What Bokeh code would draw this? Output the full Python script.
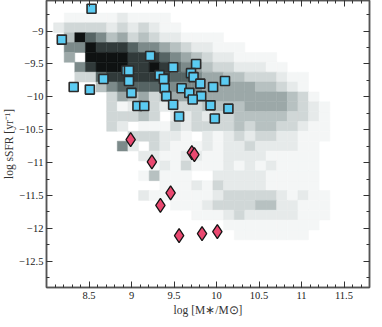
import numpy as np
from bokeh.plotting import figure
from bokeh.models import Range1d, FixedTicker, LinearAxis, CustomJSTickFormatter, ColumnDataSource
from bokeh.embed import file_html
from bokeh.resources import INLINE

# ---- 2D histogram of the galaxy population (grey map), levels 0-9
hist_x_start = 8.083
hist_x_step = 0.125
hist_y_top = -8.725
hist_y_step = 0.15

hist_rows = [
    [0,1,1,1,1,1,2,1,1,1,1,0,0,0,0,0,0,0,0,0,0,0,0,0,0,0],
    [2,3,3,3,3,2,3,2,3,2,1,1,0,0,0,0,0,0,0,0,0,0,0,0,0,0],
    [0,4,9,7,6,4,5,3,4,3,2,2,1,1,1,1,0,0,0,0,0,0,0,0,0,0],
    [0,6,6,9,8,8,8,7,6,6,5,4,3,2,2,1,1,1,0,0,0,0,0,0,0,0],
    [0,5,0,9,9,9,9,8,8,8,7,6,5,4,3,2,2,1,1,1,1,0,0,0,0,0],
    [0,0,6,8,9,9,9,8,8,9,8,7,6,5,4,3,3,2,2,2,1,1,0,0,0,0],
    [0,0,3,3,7,8,8,8,8,8,8,7,7,6,5,5,4,4,3,3,3,2,1,1,0,0],
    [0,0,0,0,4,6,7,7,7,7,7,6,6,6,5,5,5,5,5,4,4,3,2,1,0,0],
    [0,0,0,0,0,3,5,4,5,3,4,5,5,5,5,5,5,5,5,5,5,5,4,3,1,0],
    [0,0,0,0,0,3,1,2,3,3,2,3,3,3,4,4,4,4,5,5,5,5,4,3,2,1],
    [0,0,0,0,0,3,3,3,4,3,0,2,2,3,2,3,3,4,4,4,4,4,3,3,2,1],
    [0,0,0,0,0,3,2,0,1,1,1,3,2,3,3,3,3,4,3,4,4,3,3,2,1,1],
    [0,0,0,0,0,0,0,3,3,3,2,2,1,0,2,1,2,3,2,3,3,2,2,1,1,1],
    [0,0,0,0,0,0,6,2,0,3,2,1,1,1,2,1,2,2,3,2,2,2,2,1,1,0],
    [0,0,0,0,0,0,0,0,2,2,1,1,2,2,1,1,2,2,2,2,1,1,1,1,1,0],
    [0,0,0,0,0,0,0,0,0,1,2,1,3,1,1,1,2,1,2,1,2,1,1,1,1,0],
    [0,0,0,0,0,0,0,0,1,4,1,1,1,0,0,2,2,2,2,2,1,1,1,1,1,0],
    [0,0,0,0,0,0,0,0,0,0,1,1,1,2,1,3,2,2,2,2,1,1,1,1,1,0],
    [0,0,0,0,0,0,0,0,2,1,1,1,1,1,1,2,3,3,3,3,3,2,1,2,1,1],
    [0,0,0,0,0,0,0,0,0,0,0,1,1,1,2,3,3,3,3,4,4,2,2,1,1,1],
    [0,0,0,0,0,0,0,0,0,0,0,0,0,1,1,1,2,3,2,2,2,2,2,1,1,1],
    [0,0,0,0,0,0,0,0,0,0,0,0,0,0,0,0,1,1,1,1,1,1,1,1,1,0],
    [0,0,0,0,0,0,0,0,0,0,0,0,0,0,0,0,0,1,1,1,1,1,1,1,0,0],
]

# ---- blue squares
sq_logm = [8.53, 8.18, 9.22, 8.94, 8.97, 8.97, 9.00, 9.33, 9.38, 9.49, 9.76, 9.70,
           9.73, 10.10, 9.39, 9.59, 9.81, 9.96, 9.68, 9.41, 9.82, 9.72, 9.07, 9.15,
           9.49, 9.93, 10.14, 9.56, 9.98, 8.32, 8.51, 8.67]
sq_ssfr = [-8.66, -9.13, -9.38, -9.60, -9.60, -9.76, -9.94, -9.67, -9.73, -9.55, -9.50, -9.64,
           -9.70, -9.76, -9.87, -9.87, -9.80, -9.85, -9.94, -9.99, -9.99, -10.04, -10.14, -10.14,
           -10.12, -10.13, -10.18, -10.30, -10.33, -9.85, -9.89, -9.73]

# ---- red diamonds
dia_logm = [8.99, 9.24, 9.71, 9.74, 9.46, 9.34, 9.56, 9.83, 10.01]
dia_ssfr = [-10.65, -10.99, -10.85, -10.88, -11.46, -11.65, -12.11, -12.08, -12.05]

# ---- ticks
x_major_ticks = [8.5, 9.0, 9.5, 10.0, 10.5, 11.0, 11.5]
x_minor_ticks = [round(8.1 + 0.1 * i, 2) for i in range(37)]
y_major_ticks = [-12.5, -12.0, -11.5, -11.0, -10.5, -10.0, -9.5, -9.0]
y_minor_ticks = [-12.75, -12.25, -11.75, -11.25, -10.75, -10.25, -9.75, -9.25, -8.75]

level_dark = [0.0, 0.035, 0.085, 0.16, 0.25, 0.35, 0.47, 0.62, 0.78, 0.93]


def shade(lvl):
    d = level_dark[lvl]
    base = 255.0 * (1.0 - d)
    t = 18.0 * np.sin(np.pi * d)
    r = int(np.clip(base - 0.6 * t, 0, 255))
    g = int(np.clip(base + 0.2 * t, 0, 255))
    b = int(np.clip(base + 0.2 * t, 0, 255))
    return "#%02x%02x%02x" % (r, g, b)


left, right, top, bottom, color = [], [], [], [], []
for i, row in enumerate(hist_rows):
    for j, lvl in enumerate(row):
        if lvl <= 0:
            continue
        l = hist_x_start + j * hist_x_step
        t_ = hist_y_top - i * hist_y_step
        left.append(l)
        right.append(l + hist_x_step)
        top.append(t_)
        bottom.append(t_ - hist_y_step)
        color.append(shade(lvl))

src = ColumnDataSource(dict(left=left, right=right, top=top, bottom=bottom, color=color))

p = figure(width=372, height=318, x_range=Range1d(8.0, 11.8), y_range=Range1d(-12.9, -8.535),
           output_backend="svg", toolbar_location=None,
           min_border_left=0, min_border_right=3, min_border_top=0, min_border_bottom=0)
p.xgrid.visible = False
p.ygrid.visible = False
p.background_fill_color = "white"
p.outline_line_color = "#555555"
p.outline_line_width = 1.5

p.quad(left="left", right="right", top="top", bottom="bottom", fill_color="color",
       line_color="color", line_width=0.5, source=src)

p.scatter(sq_logm, sq_ssfr, marker="square", size=9, fill_color="#5BCBF2",
          line_color="#2b2b2b", line_width=1.6)
p.scatter(dia_logm, dia_ssfr, marker="diamond", size=14, fill_color="#EA4870",
          line_color="#151515", line_width=1.3)

bottom_ax = p.below[0]
left_ax = p.left[0]

xt = FixedTicker(ticks=x_major_ticks, minor_ticks=x_minor_ticks)
yt = FixedTicker(ticks=y_major_ticks, minor_ticks=y_minor_ticks)
fmt = CustomJSTickFormatter(code="return (tick < 0 ? '\u2212' : '') + Math.abs(tick).toString();")
blank = CustomJSTickFormatter(code="return '';")

top_ax = LinearAxis(ticker=xt, formatter=blank)
right_ax = LinearAxis(ticker=yt, formatter=blank)
p.add_layout(top_ax, "above")
p.add_layout(right_ax, "right")

bottom_ax.ticker = xt
left_ax.ticker = yt
bottom_ax.formatter = fmt
left_ax.formatter = fmt
bottom_ax.axis_label = "log [M\u2217/M\u2299]"
left_ax.axis_label = "log sSFR [yr\u207b\u00b9]"

for ax in [bottom_ax, left_ax, top_ax, right_ax]:
    ax.major_tick_in = 6
    ax.major_tick_out = 0
    ax.minor_tick_in = 3
    ax.minor_tick_out = 0
    ax.axis_line_color = "#555555"
    ax.axis_line_width = 1.5
    ax.major_tick_line_color = "#333333"
    ax.minor_tick_line_color = "#333333"
    ax.major_label_text_font = "Liberation Serif"
    ax.major_label_text_font_size = "10.5px"
    ax.major_label_text_color = "#222222"
    ax.major_label_standoff = 4
    ax.axis_label_text_font = "Liberation Serif"
    ax.axis_label_text_font_style = "normal"
    ax.axis_label_text_font_size = "11.5px"
    ax.axis_label_text_color = "#333333"
    ax.axis_label_standoff = 2

left_ax.major_label_standoff = 3
left_ax.axis_label_standoff = 1

for ax in [top_ax, right_ax]:
    ax.major_label_standoff = 0
    ax.axis_label_standoff = 0

open("out.html", "w").write(file_html(p, INLINE))
